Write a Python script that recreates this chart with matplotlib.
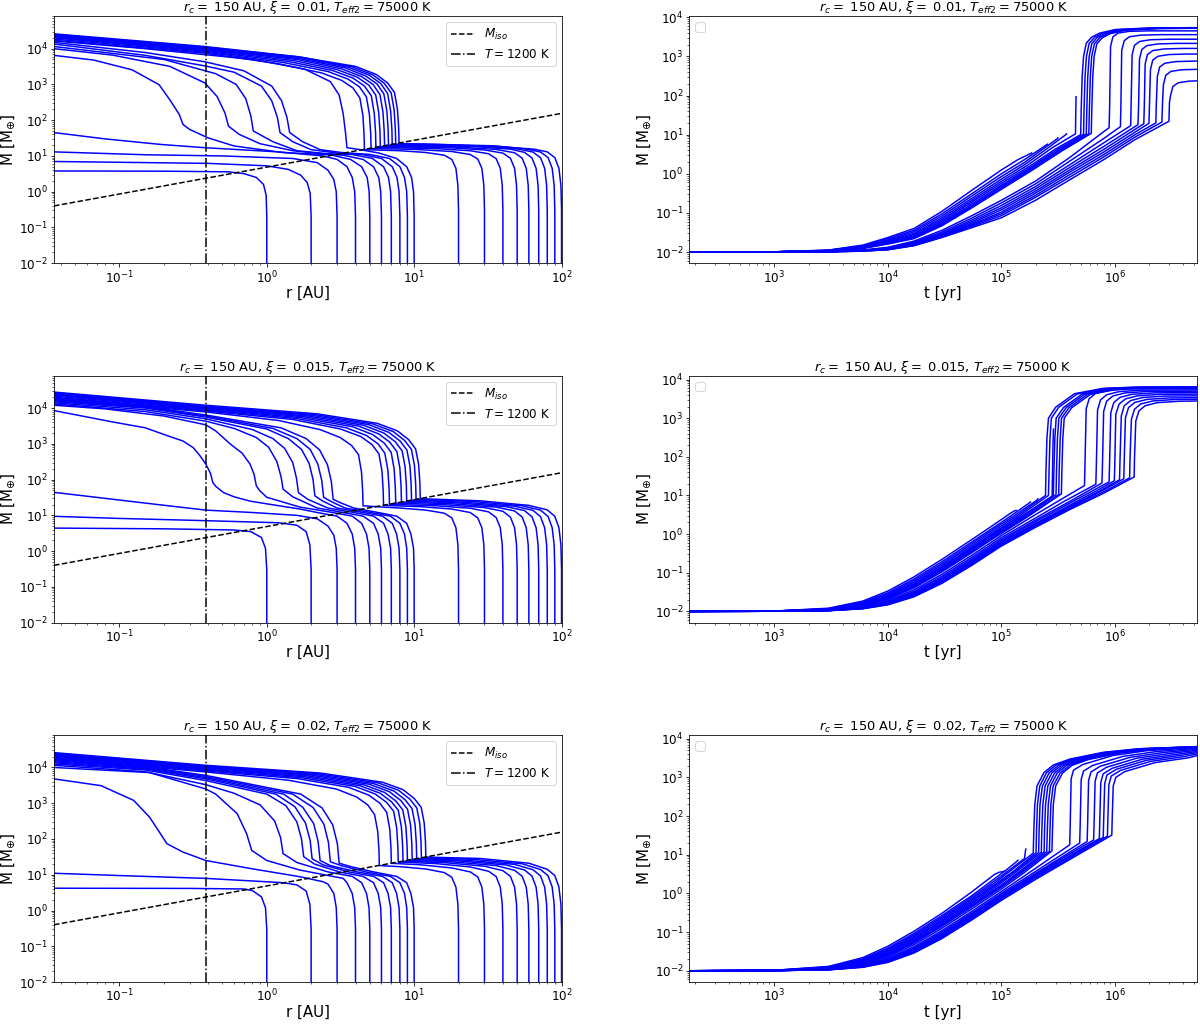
import matplotlib
matplotlib.use("Agg")
import matplotlib.pyplot as plt

# panel parameters
xi_vals = [0.01, 0.015, 0.02]
r_c = 150
t_eff2 = 75000
r_T1200 = 0.386
miso_r = [0.036, 100]
miso_m = [0.4, 155]

# ---------------- xi = 0.01 : M vs r ----------------
r_a = [
    [1, 1, 0.99, 0.95, 0.85, 0.7, 0.55, 0.2, 0.036],
    [2, 2, 1.97, 1.88, 1.7, 1.4, 1.0, 0.4, 0.036],
    [3, 3, 2.96, 2.85, 2.6, 2.2, 1.5, 0.5, 0.15, 0.036],
    [4, 4, 3.95, 3.8, 3.5, 3.0, 2.4, 1.2, 0.38, 0.19, 0.08, 0.036],
    [5, 5, 4.95, 4.8, 4.4, 3.7, 2.7, 1.3, 0.6, 0.4, 0.3, 0.27, 0.255, 0.22, 0.186, 0.122, 0.067, 0.036],
    [6, 6, 5.93, 5.75, 5.3, 4.5, 3.3, 2.4, 1.5, 0.9, 0.65, 0.55, 0.52, 0.46, 0.38, 0.22, 0.09, 0.036],
    [7, 7, 6.92, 6.7, 6.2, 5.2, 3.8, 2.6, 1.6, 1.1, 0.81, 0.78, 0.72, 0.62, 0.45, 0.2, 0.036],
    [8, 8, 7.9, 7.65, 7.1, 6, 4.4, 3, 2, 1.5, 1.23, 1.18, 1.08, 0.92, 0.6, 0.38, 0.15, 0.036],
    [9, 9, 8.9, 8.6, 8, 6.8, 5, 3.2, 2.3, 1.75, 1.43, 1.37, 1.26, 1.08, 0.7, 0.38, 0.15, 0.036],
    [10, 10, 9.9, 9.6, 8.9, 7.6, 5.8, 4.3, 3.5, 3.42, 3.3, 3.1, 2.7, 1.8, 0.8, 0.38, 0.15, 0.036],
    [20, 20, 19.8, 19.2, 18, 16, 12, 8, 4.6, 4.57, 4.49, 4.28, 3.84, 3.22, 2.35, 1.2, 0.38, 0.036],
    [30, 30, 29.7, 28.8, 27, 24, 18, 10, 5.1, 5.07, 4.97, 4.74, 4.26, 3.57, 2.6, 1.3, 0.38, 0.036],
    [40, 40, 39.6, 38.4, 36, 32, 24, 14, 8, 5.5, 5.47, 5.36, 5.12, 4.6, 3.85, 2.8, 1.4, 0.38, 0.036],
    [50, 50, 49.5, 48, 45, 40, 30, 18, 9, 5.9, 5.86, 5.75, 5.49, 4.93, 4.13, 3.0, 1.5, 0.38, 0.036],
    [60, 60, 59.4, 57.6, 54, 48, 36, 20, 10, 6.3, 6.26, 6.14, 5.86, 5.26, 4.41, 3.2, 1.6, 0.38, 0.036],
    [70, 70, 69.3, 67.2, 63, 56, 45, 25, 11, 6.7, 6.66, 6.53, 6.23, 5.6, 4.69, 3.4, 1.65, 0.38, 0.036],
    [80, 80, 79.2, 76.8, 72, 64, 52, 30, 12, 7.1, 7.06, 6.92, 6.6, 5.93, 4.97, 3.6, 1.7, 0.38, 0.036],
    [90, 90, 89.1, 86.4, 81, 72, 58, 35, 14, 7.5, 7.45, 7.31, 6.98, 6.26, 5.25, 3.8, 1.7, 0.38, 0.036],
    [100, 100, 99, 96, 90, 80, 65, 40, 20, 12, 7.9, 7.85, 7.7, 7.35, 6.6, 5.53, 4.0, 1.6, 0.38, 0.036],
]
m_a = [
    [0.01, 0.2, 0.8, 1.6, 2.5, 3.2, 3.6, 3.75, 3.8],
    [0.01, 0.2, 0.9, 1.8, 2.9, 4.2, 5.3, 6.2, 7.0],
    [0.01, 0.2, 1, 2.2, 4, 6.5, 8.5, 10, 10.8, 13],
    [0.01, 0.2, 1, 2.5, 5, 8, 10, 13, 17, 21, 30, 45],
    [0.01, 0.2, 1, 2.5, 5, 8, 10.8, 12.4, 19, 32, 55, 76, 144, 370, 980, 2560, 4800, 6500],
    [0.01, 0.2, 1, 2.5, 5, 8, 10.5, 11.5, 14, 22, 40, 68, 160, 460, 1100, 3200, 6600, 10000],
    [0.01, 0.2, 1, 2.5, 5, 8.5, 11, 11.5, 14, 25, 50, 130, 400, 1000, 2000, 5000, 11500],
    [0.01, 0.2, 1, 2.5, 5, 8.5, 11, 12, 15, 25, 45, 120, 350, 900, 2200, 3300, 6500, 13500],
    [0.01, 0.2, 1, 2.5, 5, 8.5, 11, 12.5, 15, 25, 45, 120, 350, 900, 2400, 4300, 7800, 15000],
    [0.01, 0.2, 1, 2.5, 5, 8.5, 12, 15, 17, 45, 150, 500, 1200, 2700, 5000, 6800, 10000, 16500],
    [0.01, 0.3, 1.5, 4.5, 8, 10.5, 12.5, 14, 15, 40, 135, 420, 800, 1300, 2100, 3800, 7500, 17000],
    [0.01, 0.3, 1.5, 4.5, 8.2, 11, 13.3, 15.3, 16.1, 43, 145, 450, 850, 1400, 2300, 4100, 8000, 18500],
    [0.01, 0.3, 1.5, 4.5, 8.4, 11.5, 14, 16, 16.9, 17.1, 46, 155, 480, 900, 1500, 2450, 4400, 8500, 20000],
    [0.01, 0.3, 1.5, 4.5, 8.6, 12, 14.7, 16.8, 17.8, 18, 49, 160, 500, 950, 1580, 2600, 4700, 9000, 21000],
    [0.01, 0.3, 1.5, 4.5, 8.7, 12.3, 15.2, 17.6, 18.7, 18.9, 51, 170, 520, 1000, 1650, 2750, 5000, 9500, 22000],
    [0.01, 0.3, 1.5, 4.5, 8.8, 12.6, 15.5, 18.3, 19.6, 19.8, 53, 180, 540, 1030, 1720, 2900, 5300, 10000, 23000],
    [0.01, 0.3, 1.5, 4.5, 8.9, 12.8, 15.4, 18.8, 20.4, 20.6, 56, 185, 560, 1060, 1800, 3000, 5600, 10500, 24000],
    [0.01, 0.3, 1.5, 4.5, 9, 12.9, 15.5, 19.2, 21.1, 21.4, 58, 195, 580, 1080, 1850, 3100, 5800, 11000, 25000],
    [0.01, 0.3, 1.5, 4.5, 9, 13, 15.5, 18, 20, 21.5, 22.3, 60, 200, 600, 1100, 1900, 3200, 6000, 11500, 26000],
]

# ---------------- xi = 0.015 : M vs r ----------------
r_b = [
    [1, 1, 0.98, 0.92, 0.78, 0.6, 0.2, 0.036],
    [2, 2, 1.96, 1.85, 1.6, 1.2, 0.386, 0.1, 0.036],
    [3, 3, 2.96, 2.85, 2.6, 2.2, 1.6, 0.8, 0.386, 0.15, 0.036],
    [4, 4, 3.95, 3.8, 3.5, 3.0, 2.2, 1.68, 1.0, 0.77, 0.6, 0.51, 0.45, 0.43, 0.415, 0.386, 0.35, 0.317, 0.27, 0.216, 0.15, 0.087, 0.036],
    [5, 5, 4.94, 4.75, 4.4, 3.8, 2.8, 1.68, 1.0, 0.9, 0.85, 0.82, 0.77, 0.68, 0.57, 0.45, 0.386, 0.2, 0.08, 0.036],
    [6, 6, 5.93, 5.7, 5.3, 4.5, 3.3, 2.2, 1.5, 1.29, 1.25, 1.17, 1.03, 0.85, 0.6, 0.386, 0.15, 0.036],
    [7, 7, 6.92, 6.65, 6.2, 5.3, 3.9, 2.6, 1.9, 1.64, 1.59, 1.5, 1.32, 1.1, 0.8, 0.386, 0.15, 0.036],
    [8, 8, 7.9, 7.6, 7.1, 6.1, 4.5, 3.0, 2.4, 2.12, 2.06, 1.94, 1.72, 1.4, 1.0, 0.386, 0.15, 0.036],
    [9, 9, 8.9, 8.6, 8, 6.9, 5.1, 3.4, 2.75, 2.43, 2.36, 2.22, 1.97, 1.6, 1.1, 0.386, 0.15, 0.036],
    [10, 10, 9.9, 9.5, 8.9, 7.6, 5.7, 3.9, 3.2, 2.82, 2.74, 2.58, 2.28, 1.85, 1.25, 0.386, 0.15, 0.036],
    [20, 20, 19.8, 19.2, 18, 16, 12, 8, 5.5, 4.5, 4.47, 4.39, 4.19, 3.76, 3.15, 2.3, 1.2, 0.386, 0.036],
    [30, 30, 29.7, 28.8, 27, 24, 18, 11, 6.2, 6.16, 6.05, 5.77, 5.18, 4.34, 3.16, 1.5, 0.386, 0.036],
    [40, 40, 39.6, 38.4, 36, 32, 24, 14, 6.8, 6.76, 6.63, 6.32, 5.68, 4.76, 3.47, 1.6, 0.386, 0.036],
    [50, 50, 49.5, 48, 45, 40, 30, 16, 7.5, 7.45, 7.31, 6.98, 6.26, 5.25, 3.83, 1.7, 0.386, 0.036],
    [60, 60, 59.4, 57.6, 54, 48, 36, 18, 8.2, 8.15, 8.0, 7.63, 6.85, 5.74, 4.18, 1.8, 0.386, 0.036],
    [70, 70, 69.3, 67.2, 63, 56, 42, 20, 8.9, 8.85, 8.68, 8.28, 7.43, 6.23, 4.54, 1.9, 0.386, 0.036],
    [80, 80, 79.2, 76.8, 72, 64, 48, 22, 9.6, 9.54, 9.36, 8.93, 8.02, 6.72, 4.9, 2.0, 0.386, 0.036],
    [90, 90, 89.1, 86.4, 81, 72, 54, 25, 10.3, 10.24, 10.04, 9.58, 8.6, 7.21, 5.25, 2.1, 0.386, 0.036],
    [100, 100, 99, 96, 90, 80, 60, 28, 11, 10.93, 10.73, 10.23, 9.19, 7.7, 5.61, 2.2, 0.386, 0.036],
]
m_b = [
    [0.01, 0.3, 1.2, 2.4, 3.5, 3.9, 4.2, 4.4],
    [0.01, 0.3, 1.5, 3.5, 5.3, 6.2, 7.1, 8.2, 9.4],
    [0.01, 0.3, 1.2, 2.8, 5, 8, 10, 12, 14, 22, 44],
    [0.01, 0.3, 1.2, 3, 6, 9.5, 12, 15, 21, 25, 33, 43, 65, 83, 150, 270, 480, 780, 1200, 1640, 2800, 4200, 8500],
    [0.01, 0.3, 1.2, 3, 6, 9.5, 12, 17, 32, 48, 66, 140, 270, 550, 960, 2300, 3400, 6000, 9500, 12000],
    [0.01, 0.3, 1.2, 3, 6, 9.5, 12, 16, 33, 54, 120, 320, 800, 1500, 2700, 4300, 8000, 13000],
    [0.01, 0.3, 1.2, 3, 6, 9.5, 12, 16, 28, 43, 110, 300, 750, 1400, 2500, 5000, 9000, 14000],
    [0.01, 0.3, 1.2, 3, 6, 9.5, 12, 16, 25, 35, 100, 280, 700, 1400, 2600, 5600, 10000, 15000],
    [0.01, 0.3, 1.2, 3, 6, 9.5, 12, 16, 24, 32, 95, 270, 700, 1400, 2700, 6000, 10500, 16000],
    [0.01, 0.3, 1.2, 3, 6, 9.5, 12, 16, 22, 28, 90, 260, 680, 1400, 2800, 6400, 11000, 17000],
    [0.01, 0.3, 1.5, 4.5, 8.5, 11.5, 14, 16, 17.5, 18.5, 50, 165, 500, 900, 1500, 2500, 4500, 7800, 18000],
    [0.01, 0.3, 1.5, 4.5, 8.5, 12, 15, 17.5, 19, 51, 170, 520, 950, 1600, 2600, 4800, 8300, 19000],
    [0.01, 0.3, 1.5, 4.5, 8.7, 12.5, 15.8, 18.5, 20.4, 55, 185, 550, 1000, 1700, 2800, 5100, 8800, 20000],
    [0.01, 0.3, 1.5, 4.5, 8.9, 13, 16.5, 19.8, 22, 59, 200, 580, 1050, 1800, 3000, 5400, 9300, 21500],
    [0.01, 0.3, 1.5, 4.5, 9, 13.3, 17, 21, 23.6, 64, 210, 610, 1100, 1900, 3150, 5700, 9800, 23000],
    [0.01, 0.3, 1.5, 4.5, 9.1, 13.6, 17.5, 22.2, 25.1, 68, 225, 640, 1150, 2000, 3300, 6000, 10300, 24000],
    [0.01, 0.3, 1.5, 4.5, 9.2, 13.8, 18, 23.2, 26.6, 72, 240, 670, 1200, 2100, 3450, 6300, 10800, 25500],
    [0.01, 0.3, 1.5, 4.5, 9.3, 14, 18.5, 24.5, 28, 76, 250, 700, 1250, 2200, 3600, 6600, 11300, 27000],
    [0.01, 0.3, 1.5, 4.5, 9.4, 14.2, 19, 25.5, 29.2, 79, 260, 720, 1300, 2300, 3750, 6900, 12000, 28000],
]

# ---------------- xi = 0.02 : M vs r ----------------
r_c2 = [
    [1, 1, 0.98, 0.92, 0.8, 0.7, 0.3, 0.036],
    [2, 2, 1.96, 1.85, 1.6, 1.29, 0.386, 0.1, 0.036],
    [3, 3, 2.96, 2.85, 2.6, 2.4, 1.68, 0.77, 0.386, 0.27, 0.21, 0.19, 0.16, 0.125, 0.075, 0.036],
    [4, 4, 3.95, 3.8, 3.5, 3.3, 1.68, 1.0, 0.79, 0.73, 0.63, 0.45, 0.386, 0.16, 0.036],
    [5, 5, 4.94, 4.75, 4.4, 3.8, 2.6, 1.6, 1.29, 1.24, 1.13, 0.9, 0.6, 0.386, 0.15, 0.036],
    [6, 6, 5.93, 5.7, 5.3, 4.5, 3.1, 2.1, 1.78, 1.72, 1.6, 1.35, 1.0, 0.386, 0.15, 0.036],
    [7, 7, 6.92, 6.65, 6.2, 5.3, 3.6, 2.4, 2.03, 1.97, 1.83, 1.55, 1.15, 0.386, 0.15, 0.036],
    [8, 8, 7.9, 7.6, 7.1, 6.1, 4.1, 2.7, 2.3, 2.23, 2.08, 1.75, 1.3, 0.386, 0.15, 0.036],
    [9, 9, 8.9, 8.6, 8, 6.9, 4.7, 3.2, 2.7, 2.62, 2.44, 2.06, 1.5, 0.386, 0.15, 0.036],
    [10, 10, 9.9, 9.5, 8.9, 7.6, 5.3, 3.7, 3.1, 3.01, 2.8, 2.37, 1.7, 0.386, 0.15, 0.036],
    [20, 20, 19.8, 19.2, 18, 16, 12, 8, 5.8, 5.77, 5.66, 5.39, 4.84, 4.06, 2.96, 1.4, 0.386, 0.036],
    [30, 30, 29.7, 28.8, 27, 24, 18, 11, 7.0, 6.96, 6.83, 6.51, 5.85, 4.9, 3.57, 1.6, 0.386, 0.036],
    [40, 40, 39.6, 38.4, 36, 32, 24, 14, 7.8, 7.75, 7.61, 7.25, 6.51, 5.46, 3.98, 1.7, 0.386, 0.036],
    [50, 50, 49.5, 48, 45, 40, 30, 16, 8.4, 8.35, 8.19, 7.81, 7.01, 5.88, 4.28, 1.8, 0.386, 0.036],
    [60, 60, 59.4, 57.6, 54, 48, 36, 18, 9.0, 8.95, 8.78, 8.37, 7.52, 6.3, 4.59, 1.9, 0.386, 0.036],
    [70, 70, 69.3, 67.2, 63, 56, 42, 20, 9.7, 9.64, 9.46, 9.02, 8.1, 6.79, 4.95, 2.0, 0.386, 0.036],
    [80, 80, 79.2, 76.8, 72, 64, 48, 22, 10.4, 10.34, 10.14, 9.67, 8.68, 7.28, 5.3, 2.1, 0.386, 0.036],
    [90, 90, 89.1, 86.4, 81, 72, 54, 25, 11.2, 11.13, 10.92, 10.42, 9.35, 7.84, 5.71, 2.2, 0.386, 0.036],
    [100, 100, 99, 96, 90, 80, 60, 28, 12, 11.93, 11.7, 11.16, 10.02, 8.4, 6.12, 2.3, 0.386, 0.036],
]
m_c2 = [
    [0.01, 0.3, 1.2, 2.4, 3.6, 4.0, 4.15, 4.2],
    [0.01, 0.3, 1.5, 3.5, 5.2, 6.0, 7.9, 9.5, 11],
    [0.01, 0.3, 1.2, 3, 5.5, 6.4, 8.8, 15, 25, 43, 74, 140, 410, 1200, 3100, 4800],
    [0.01, 0.3, 1.2, 3, 6, 7.9, 13.5, 25, 48, 140, 510, 1800, 2500, 7200, 10000],
    [0.01, 0.3, 1.2, 3, 6, 9, 12, 22, 39, 110, 320, 900, 1900, 3300, 7600, 11500],
    [0.01, 0.3, 1.2, 3, 6, 9, 12, 20, 32, 100, 300, 850, 1800, 4300, 8500, 12500],
    [0.01, 0.3, 1.2, 3, 6, 9, 12, 19, 28, 90, 280, 800, 1800, 4800, 9000, 13500],
    [0.01, 0.3, 1.2, 3, 6, 9, 12, 18, 25, 85, 270, 780, 1800, 5200, 9500, 14500],
    [0.01, 0.3, 1.2, 3, 6, 9, 12, 18, 23, 80, 260, 760, 1800, 5600, 10000, 15500],
    [0.01, 0.3, 1.2, 3, 6, 9, 12, 17, 21, 75, 250, 740, 1800, 6000, 10500, 16500],
    [0.01, 0.3, 1.5, 4.5, 8.5, 11.5, 14.5, 16.8, 18.1, 49, 160, 480, 900, 1500, 2500, 4400, 7500, 17500],
    [0.01, 0.3, 1.5, 4.5, 8.7, 12, 15.5, 19, 20.9, 56, 190, 560, 1000, 1700, 2800, 4900, 8000, 18500],
    [0.01, 0.3, 1.5, 4.5, 8.9, 12.5, 16.5, 20.5, 22.7, 61, 205, 600, 1050, 1800, 2950, 5200, 8500, 19500],
    [0.01, 0.3, 1.5, 4.5, 9, 13, 17.3, 21.8, 24, 65, 215, 630, 1100, 1900, 3100, 5500, 9000, 20500],
    [0.01, 0.3, 1.5, 4.5, 9.1, 13.3, 18, 23, 25.3, 68, 228, 650, 1150, 2000, 3250, 5800, 9500, 21500],
    [0.01, 0.3, 1.5, 4.5, 9.2, 13.6, 18.8, 24.3, 26.7, 72, 240, 680, 1200, 2100, 3400, 6100, 10000, 22500],
    [0.01, 0.3, 1.5, 4.5, 9.3, 13.8, 19.5, 25.6, 28.2, 76, 254, 710, 1250, 2200, 3550, 6400, 10500, 23500],
    [0.01, 0.3, 1.5, 4.5, 9.4, 14, 20.3, 27, 29.6, 80, 266, 740, 1300, 2300, 3700, 6700, 11000, 25000],
    [0.01, 0.3, 1.5, 4.5, 9.5, 14.2, 21, 28.5, 31.2, 84, 280, 770, 1350, 2400, 3850, 7000, 11500, 26000],
]

# ---------------- M vs t ----------------
t_early_a = [150, 1e3, 3e3, 6e3, 1e4, 1.7e4, 3e4, 5.5e4, 1e5]
m_early_a = [
    [0.01, 0.0101, 0.0112, 0.015, 0.0235, 0.04, 0.11, 0.38, 1.25],
    [0.01, 0.0101, 0.0111, 0.0145, 0.022, 0.036, 0.095, 0.31, 1.0],
    [0.01, 0.0101, 0.011, 0.014, 0.0205, 0.033, 0.084, 0.27, 0.85],
    [0.01, 0.0101, 0.0109, 0.0137, 0.0195, 0.03, 0.075, 0.235, 0.73],
    [0.01, 0.0101, 0.0108, 0.0134, 0.0185, 0.028, 0.068, 0.21, 0.64],
    [0.01, 0.0101, 0.0108, 0.0131, 0.0178, 0.026, 0.062, 0.19, 0.57],
    [0.01, 0.0101, 0.0107, 0.0129, 0.0172, 0.025, 0.057, 0.17, 0.51],
    [0.01, 0.0101, 0.0107, 0.0127, 0.0167, 0.024, 0.053, 0.155, 0.47],
    [0.01, 0.0101, 0.0106, 0.0125, 0.0163, 0.023, 0.05, 0.145, 0.43],
    [0.01, 0.0101, 0.0106, 0.0123, 0.016, 0.022, 0.047, 0.135, 0.40],
    [0.01, 0.0101, 0.0103, 0.0112, 0.0132, 0.019, 0.036, 0.085, 0.21],
    [0.01, 0.0101, 0.0103, 0.0111, 0.0128, 0.0178, 0.0325, 0.074, 0.18],
    [0.01, 0.0101, 0.0102, 0.011, 0.0125, 0.017, 0.03, 0.066, 0.155],
    [0.01, 0.0101, 0.0102, 0.0109, 0.0122, 0.0163, 0.0285, 0.06, 0.135],
    [0.01, 0.0101, 0.0102, 0.0108, 0.012, 0.0158, 0.027, 0.055, 0.12],
    [0.01, 0.0101, 0.0102, 0.0107, 0.0118, 0.0154, 0.026, 0.051, 0.105],
    [0.01, 0.0101, 0.0101, 0.0106, 0.0116, 0.015, 0.025, 0.048, 0.095],
    [0.01, 0.0101, 0.0101, 0.0106, 0.0115, 0.0147, 0.0242, 0.045, 0.085],
    [0.01, 0.0101, 0.0101, 0.0105, 0.0114, 0.0145, 0.0235, 0.042, 0.075],
]
t_late_a = [
    [1.4e5, 1.75e5, 1.85e5],
    [1.6e5, 2.1e5, 2.5e5, 2.55e5],
    [1.6e5, 2.3e5, 3.1e5, 3.15e5],
    [1.6e5, 2.5e5, 3.7e5, 3.75e5],
    [1.7e5, 2.8e5, 4.5e5, 4.52e5, 4.55e5],
    [1.8e5, 3e5, 5.0e5, 5.05e5, 5.15e5, 5.3e5, 5.6e5, 6.25e5, 7.3e5, 1.0e6, 2.0e6, 6e6],
    [1.8e5, 3e5, 5.3e5, 5.35e5, 5.46e5, 5.62e5, 5.94e5, 6.63e5, 7.74e5, 1.06e6, 2.12e6, 6e6],
    [1.8e5, 3.2e5, 5.6e5, 5.66e5, 5.77e5, 5.94e5, 6.27e5, 7.0e5, 8.18e5, 1.12e6, 2.24e6, 6e6],
    [1.8e5, 3.2e5, 5.9e5, 5.96e5, 6.08e5, 6.25e5, 6.61e5, 7.38e5, 8.61e5, 1.18e6, 2.36e6, 6e6],
    [1.8e5, 3.4e5, 6.2e5, 6.26e5, 6.39e5, 6.57e5, 6.94e5, 7.75e5, 9.05e5, 1.24e6, 2.48e6, 6e6],
    [2e5, 4e5, 8e5, 8.9e5, 8.99e5, 9.17e5, 9.61e5, 1.07e6, 1.34e6, 1.96e6, 6e6],
    [2e5, 4e5, 8e5, 1.12e6, 1.13e6, 1.15e6, 1.21e6, 1.34e6, 1.68e6, 2.46e6, 6e6],
    [2e5, 4e5, 8e5, 1.38e6, 1.39e6, 1.42e6, 1.49e6, 1.66e6, 2.07e6, 3.04e6, 6e6],
    [2e5, 4e5, 8e5, 1.6e6, 1.62e6, 1.65e6, 1.73e6, 1.92e6, 2.4e6, 3.52e6, 6e6],
    [2e5, 4e5, 8e5, 1.8e6, 1.82e6, 1.85e6, 1.94e6, 2.16e6, 2.7e6, 3.96e6, 6e6],
    [2e5, 4e5, 8e5, 1.5e6, 2.0e6, 2.02e6, 2.06e6, 2.16e6, 2.4e6, 3.0e6, 4.4e6, 6e6],
    [2e5, 4e5, 8e5, 1.5e6, 2.3e6, 2.32e6, 2.37e6, 2.48e6, 2.76e6, 3.45e6, 5.06e6, 6e6],
    [2e5, 4e5, 8e5, 1.5e6, 2.6e6, 2.63e6, 2.68e6, 2.81e6, 3.12e6, 3.9e6, 5.72e6, 6e6],
    [2e5, 4e5, 8e5, 1.5e6, 3.0e6, 3.03e6, 3.09e6, 3.24e6, 3.6e6, 4.5e6, 6e6],
]
m_late_a = [
    [2.3, 3.15, 3.4],
    [2.3, 3.9, 5.5, 5.7],
    [1.95, 4.2, 7.8, 8.3],
    [1.7, 4.3, 10, 10.5],
    [1.65, 4.6, 10.5, 30, 93],
    [1.6, 4.3, 10, 40, 300, 1000, 2180, 3110, 3920, 4850, 5340, 5450],
    [1.45, 3.9, 10.2, 40, 300, 1000, 2160, 3080, 3890, 4810, 5290, 5400],
    [1.35, 4.0, 10.4, 40, 300, 1000, 2140, 3050, 3850, 4760, 5240, 5350],
    [1.25, 3.7, 10.6, 40, 300, 1000, 2120, 3020, 3820, 4720, 5190, 5300],
    [1.15, 3.8, 10.8, 40, 300, 1000, 2100, 2990, 3780, 4670, 5150, 5250],
    [0.65, 2.6, 12, 15, 45, 1800, 3150, 3960, 4370, 4500, 4500],
    [0.55, 2.1, 8.0, 16, 48, 1440, 2520, 3170, 3490, 3600, 3600],
    [0.47, 1.7, 6.2, 17, 51, 1100, 1925, 2420, 2670, 2750, 2750],
    [0.41, 1.45, 5.0, 18, 54, 860, 1505, 1890, 2085, 2150, 2150],
    [0.36, 1.25, 4.2, 19, 57, 640, 1120, 1410, 1550, 1600, 1600],
    [0.32, 1.1, 3.6, 11.5, 19.5, 58, 460, 805, 1010, 1115, 1150, 1150],
    [0.28, 0.95, 3.1, 9.9, 20, 60, 304, 532, 669, 737, 760, 760],
    [0.25, 0.82, 2.7, 8.6, 21, 63, 188, 329, 414, 456, 470, 470],
    [0.21, 0.7, 2.3, 7.4, 22, 66, 96, 168, 211, 233, 240],
]

t_early_b = [150, 1e3, 3e3, 6e3, 1e4, 1.7e4, 3e4, 5.5e4]
m_early_b = [
    [0.01, 0.0102, 0.0121, 0.0185, 0.0337, 0.0784, 0.223, 0.726],
    [0.01, 0.0102, 0.0118, 0.0173, 0.0304, 0.069, 0.194, 0.627],
    [0.01, 0.0102, 0.0116, 0.0166, 0.0283, 0.0628, 0.174, 0.562],
    [0.01, 0.0102, 0.0115, 0.0159, 0.0264, 0.0575, 0.158, 0.507],
    [0.01, 0.0102, 0.0113, 0.0154, 0.0249, 0.053, 0.144, 0.46],
    [0.01, 0.0102, 0.0112, 0.015, 0.0238, 0.05, 0.135, 0.429],
    [0.01, 0.0101, 0.0112, 0.0147, 0.0229, 0.0473, 0.126, 0.40],
    [0.01, 0.0101, 0.0111, 0.0143, 0.0221, 0.0449, 0.119, 0.375],
    [0.01, 0.0101, 0.011, 0.0141, 0.0213, 0.0427, 0.112, 0.352],
    [0.01, 0.0101, 0.011, 0.0138, 0.0206, 0.0407, 0.106, 0.331],
    [0.01, 0.0101, 0.0108, 0.0133, 0.0191, 0.0362, 0.0916, 0.284],
    [0.01, 0.0101, 0.0107, 0.0129, 0.018, 0.033, 0.0817, 0.251],
    [0.01, 0.0101, 0.0106, 0.0126, 0.0172, 0.0308, 0.0746, 0.227],
    [0.01, 0.0101, 0.0106, 0.0124, 0.0166, 0.0291, 0.0695, 0.21],
    [0.01, 0.0101, 0.0105, 0.0122, 0.0161, 0.0276, 0.0649, 0.195],
    [0.01, 0.0101, 0.0105, 0.0121, 0.0157, 0.0266, 0.0617, 0.184],
    [0.01, 0.0101, 0.0105, 0.0119, 0.0154, 0.0256, 0.0587, 0.174],
    [0.01, 0.0101, 0.0105, 0.0118, 0.0151, 0.0247, 0.0559, 0.164],
    [0.01, 0.0101, 0.0104, 0.0117, 0.0148, 0.0239, 0.0534, 0.156],
]
t_late_b = [
    [8e4, 1.1e5, 1.3e5, 1.35e5],
    [8e4, 1.2e5, 1.75e5, 1.8e5],
    [8e4, 1.3e5, 2.05e5, 2.1e5],
    [8e4, 1.4e5, 2.45e5, 2.47e5, 2.52e5, 2.6e5, 3.01e5, 4.41e5, 7.84e5, 1.47e6, 6e6],
    [8e4, 1.4e5, 2.6e5, 2.63e5, 2.68e5, 2.76e5, 3.2e5, 4.68e5, 8.32e5, 1.56e6, 6e6],
    [8e4, 1.5e5, 2.8e5, 2.82e5, 2.85e5, 2.88e5],
    [8e4, 1.5e5, 2.87e5, 2.9e5, 2.96e5, 3.04e5, 3.53e5, 5.17e5, 9.18e5, 1.72e6, 6e6],
    [8e4, 1.6e5, 3.03e5, 3.06e5, 3.12e5, 3.21e5, 3.73e5, 5.45e5, 9.7e5, 1.82e6, 6e6],
    [8e4, 1.6e5, 3.2e5, 3.23e5, 3.3e5, 3.39e5, 3.94e5, 5.76e5, 1.02e6, 1.92e6, 6e6],
    [8e4, 1.7e5, 3.38e5, 3.41e5, 3.48e5, 3.58e5, 4.16e5, 6.08e5, 1.08e6, 2.03e6, 6e6],
    [1e5, 2e5, 3.5e5, 5.4e5, 5.45e5, 5.59e5, 5.94e5, 6.75e5, 8.64e5, 1.35e6, 6e6],
    [1e5, 2e5, 3.5e5, 6.8e5, 6.87e5, 7.04e5, 7.48e5, 8.5e5, 1.09e6, 1.7e6, 6e6],
    [1e5, 2e5, 4e5, 7.7e5, 7.78e5, 7.97e5, 8.47e5, 9.63e5, 1.23e6, 1.93e6, 6e6],
    [1e5, 2e5, 4e5, 8.9e5, 8.99e5, 9.21e5, 9.79e5, 1.11e6, 1.42e6, 2.23e6, 6e6],
    [1e5, 2e5, 4e5, 7e5, 9.9e5, 1.0e6, 1.02e6, 1.09e6, 1.24e6, 1.58e6, 2.48e6, 6e6],
    [1e5, 2e5, 4e5, 7e5, 1.1e6, 1.11e6, 1.14e6, 1.21e6, 1.38e6, 1.76e6, 2.75e6, 6e6],
    [1e5, 2e5, 4e5, 8e5, 1.2e6, 1.21e6, 1.24e6, 1.32e6, 1.5e6, 1.92e6, 3.0e6, 6e6],
    [1e5, 2e5, 4e5, 8e5, 1.35e6, 1.36e6, 1.4e6, 1.49e6, 1.69e6, 2.16e6, 3.38e6, 6e6],
    [1e5, 2e5, 4e5, 8e5, 1.48e6, 1.49e6, 1.53e6, 1.63e6, 1.85e6, 2.37e6, 3.7e6, 6e6],
]
m_late_b = [
    [1.52, 2.9, 4.0, 4.1],
    [1.3, 2.9, 6.3, 6.8],
    [1.18, 3.0, 7.5, 8.2],
    [1.06, 3.1, 10, 40, 300, 1000, 1920, 4290, 5890, 6340, 6400],
    [0.96, 2.8, 10, 40, 300, 1000, 1910, 4250, 5840, 6290, 6350],
    [0.9, 2.9, 9.5, 30, 200, 520],
    [0.84, 2.7, 10, 40, 300, 1000, 1890, 4220, 5800, 6240, 6300],
    [0.78, 2.8, 10.5, 40, 300, 1000, 1880, 4190, 5750, 6190, 6250],
    [0.73, 2.6, 10.5, 40, 300, 1000, 1860, 4150, 5700, 6140, 6200],
    [0.69, 2.8, 11, 40, 300, 1000, 1850, 4120, 5660, 6090, 6150],
    [0.92, 3.2, 8.5, 18, 54, 1740, 3190, 4350, 5220, 5680, 5800],
    [0.81, 2.6, 6.8, 19.5, 58, 1620, 2970, 4050, 4860, 5290, 5400],
    [0.73, 2.3, 7, 21, 63, 1500, 2750, 3750, 4500, 4900, 5000],
    [0.67, 2.1, 6.3, 22.5, 68, 1380, 2530, 3450, 4140, 4510, 4600],
    [0.62, 1.9, 5.6, 13.5, 24, 72, 1260, 2310, 3150, 3780, 4120, 4200],
    [0.58, 1.8, 5.2, 12, 25.5, 77, 1140, 2090, 2850, 3420, 3720, 3800],
    [0.55, 1.7, 4.9, 14, 27, 81, 1020, 1870, 2550, 3060, 3330, 3400],
    [0.52, 1.6, 4.6, 12.5, 28.5, 86, 930, 1700, 2330, 2790, 3040, 3100],
    [0.49, 1.5, 4.3, 11.5, 30, 90, 840, 1540, 2100, 2520, 2740, 2800],
]

t_early_c = [150, 1e3, 3e3, 6e3, 1e4, 1.7e4, 3e4, 5.5e4]
m_early_c = [
    [0.01, 0.0103, 0.013, 0.0219, 0.0431, 0.1055, 0.3075, 1.1],
    [0.01, 0.0103, 0.0126, 0.0203, 0.0387, 0.093, 0.2685, 0.879],
    [0.01, 0.0103, 0.0123, 0.0194, 0.036, 0.0852, 0.244, 0.797],
    [0.01, 0.0102, 0.0121, 0.0185, 0.0337, 0.0784, 0.223, 0.726],
    [0.01, 0.0102, 0.0119, 0.0178, 0.0316, 0.0725, 0.205, 0.664],
    [0.01, 0.0102, 0.0118, 0.0171, 0.0298, 0.0673, 0.189, 0.61],
    [0.01, 0.0102, 0.0116, 0.0166, 0.0283, 0.0628, 0.174, 0.562],
    [0.01, 0.0102, 0.0115, 0.0161, 0.0269, 0.0587, 0.162, 0.52],
    [0.01, 0.0102, 0.0114, 0.0156, 0.0256, 0.0552, 0.151, 0.483],
    [0.01, 0.0101, 0.0113, 0.0152, 0.0245, 0.052, 0.141, 0.449],
    [0.01, 0.0101, 0.0112, 0.0146, 0.0229, 0.0473, 0.126, 0.40],
    [0.01, 0.0101, 0.011, 0.014, 0.0211, 0.042, 0.1097, 0.345],
    [0.01, 0.0101, 0.0109, 0.0136, 0.020, 0.0389, 0.10, 0.3125],
    [0.01, 0.0101, 0.0108, 0.0133, 0.0192, 0.0367, 0.0932, 0.29],
    [0.01, 0.0101, 0.0108, 0.0131, 0.0186, 0.0348, 0.0872, 0.269],
    [0.01, 0.0101, 0.0107, 0.0129, 0.018, 0.033, 0.0817, 0.251],
    [0.01, 0.0101, 0.0107, 0.0127, 0.0174, 0.0315, 0.0769, 0.235],
    [0.01, 0.0101, 0.0106, 0.0125, 0.0169, 0.0301, 0.0725, 0.22],
    [0.01, 0.0101, 0.0106, 0.0123, 0.0165, 0.0288, 0.0685, 0.207],
]
t_late_c = [
    [7e4, 8.7e4, 9.5e4, 1.07e5],
    [8e4, 1.1e5, 1.35e5, 1.4e5],
    [8e4, 1.2e5, 1.6e5, 1.62e5, 1.64e5],
    [9e4, 1.3e5, 1.91e5, 1.93e5, 1.97e5, 2.06e5, 2.37e5, 2.87e5, 4.01e5, 7.83e5, 1.62e6, 6e6],
    [9e4, 1.3e5, 2.02e5, 2.04e5, 2.08e5, 2.18e5, 2.5e5, 3.03e5, 4.24e5, 8.28e5, 1.72e6, 6e6],
    [9e4, 1.4e5, 2.13e5, 2.15e5, 2.19e5, 2.3e5, 2.64e5, 3.2e5, 4.47e5, 8.73e5, 1.81e6, 6e6],
    [9e4, 1.4e5, 2.25e5, 2.27e5, 2.32e5, 2.43e5, 2.79e5, 3.38e5, 4.73e5, 9.23e5, 1.91e6, 6e6],
    [1e5, 1.5e5, 2.38e5, 2.4e5, 2.45e5, 2.57e5, 2.95e5, 3.57e5, 5.0e5, 9.76e5, 2.02e6, 6e6],
    [1e5, 1.5e5, 2.51e5, 2.54e5, 2.59e5, 2.71e5, 3.11e5, 3.77e5, 5.27e5, 1.03e6, 2.13e6, 6e6],
    [1e5, 1.6e5, 2.65e5, 2.68e5, 2.73e5, 2.86e5, 3.29e5, 3.98e5, 5.57e5, 1.09e6, 2.25e6, 6e6],
    [1e5, 1.6e5, 2.79e5, 2.82e5, 2.87e5, 3.01e5, 3.46e5, 4.19e5, 5.86e5, 1.14e6, 2.37e6, 6e6],
    [1e5, 2e5, 4e5, 4.04e5, 4.12e5, 4.32e5, 5.2e5, 9.6e5, 1.9e6, 6e6],
    [1e5, 2e5, 4.9e5, 4.95e5, 5.05e5, 5.29e5, 6.37e5, 1.18e6, 2.33e6, 6e6],
    [1e5, 2e5, 5.7e5, 5.76e5, 5.87e5, 6.16e5, 7.41e5, 1.37e6, 2.71e6, 6e6],
    [1e5, 2e5, 4e5, 6.5e5, 6.57e5, 6.7e5, 7.02e5, 8.45e5, 1.56e6, 3.09e6, 6e6],
    [1e5, 2e5, 4e5, 7.3e5, 7.37e5, 7.52e5, 7.88e5, 9.49e5, 1.75e6, 3.47e6, 6e6],
    [1e5, 2e5, 4e5, 7.9e5, 7.98e5, 8.14e5, 8.53e5, 1.03e6, 1.9e6, 3.75e6, 6e6],
    [1e5, 2e5, 4e5, 8.6e5, 8.69e5, 8.86e5, 9.29e5, 1.12e6, 2.06e6, 4.09e6, 6e6],
    [1e5, 2e5, 4e5, 9.4e5, 9.49e5, 9.68e5, 1.02e6, 1.22e6, 2.26e6, 4.47e6, 6e6],
]
m_late_c = [
    [1.9, 3.1, 3.5, 3.75],
    [2.0, 4.0, 6.5, 7.2],
    [1.75, 4.2, 8.0, 11, 14],
    [2.0, 4.6, 11, 40, 200, 600, 1320, 2080, 2960, 4410, 5480, 6300],
    [1.8, 3.9, 11.2, 40, 200, 600, 1320, 2080, 2960, 4410, 5480, 6300],
    [1.65, 4.3, 11.4, 40, 200, 600, 1310, 2060, 2940, 4380, 5440, 6250],
    [1.5, 3.9, 11.6, 40, 200, 600, 1310, 2060, 2940, 4380, 5440, 6250],
    [1.65, 4.0, 11.8, 40, 200, 600, 1300, 2050, 2910, 4340, 5390, 6200],
    [1.55, 3.7, 12, 40, 200, 600, 1300, 2050, 2910, 4340, 5390, 6200],
    [1.45, 3.9, 12.2, 40, 200, 600, 1290, 2030, 2890, 4310, 5350, 6150],
    [1.3, 3.5, 12.5, 40, 200, 600, 1290, 2030, 2890, 4310, 5350, 6150],
    [1.12, 4.44, 18, 54, 915, 1525, 2135, 3660, 4880, 6100],
    [1.0, 3.7, 20, 60, 870, 1450, 2030, 3480, 4640, 5800],
    [0.93, 3.3, 22, 66, 825, 1375, 1925, 3300, 4400, 5500],
    [0.87, 3.1, 10.5, 24, 72, 780, 1300, 1820, 3120, 4160, 5200],
    [0.81, 2.9, 9.5, 26, 78, 735, 1225, 1715, 2940, 3920, 4900],
    [0.76, 2.7, 8.8, 28, 84, 690, 1150, 1610, 2760, 3680, 4600],
    [0.71, 2.5, 8.1, 30, 90, 645, 1075, 1505, 2580, 3440, 4300],
    [0.66, 2.3, 7.5, 32, 96, 600, 1000, 1400, 2400, 3200, 4000],
]

r_tracks = [(r_a, m_a), (r_b, m_b), (r_c2, m_c2)]
t_tracks = [(t_early_a, m_early_a, t_late_a, m_late_a),
            (t_early_b, m_early_b, t_late_b, m_late_b),
            (t_early_c, m_early_c, t_late_c, m_late_c)]

plt.rcParams['xtick.major.pad'] = 2.5
plt.rcParams['ytick.major.pad'] = 2.5

fig, axes = plt.subplots(3, 2, figsize=(1200 / 72, 1024 / 72), dpi=72)
fig.subplots_adjust(left=0.045, right=0.9975, bottom=0.041, top=0.984,
                    wspace=0.252, hspace=0.456)

for row in range(3):
    title = r'$r_c = $ %d AU, $\xi = $ %s, $T_{eff2} = %d$ K' % (r_c, xi_vals[row], t_eff2)

    ax = axes[row, 0]
    rr, mm = r_tracks[row]
    for r, m in zip(rr, mm):
        ax.plot(r, m, color='blue', lw=1.5)
    ax.plot(miso_r, miso_m, 'k--', lw=1.5, label=r'$M_{iso}$')
    ax.axvline(r_T1200, color='k', ls='-.', lw=1.5, label=r'$T = 1200$ K')
    ax.set_xscale('log')
    ax.set_yscale('log')
    ax.set_xlim(0.036, 100)
    ax.set_ylim(1e-2, 8e4)
    ax.set_xlabel('r [AU]', fontsize=15, labelpad=0)
    ax.set_ylabel(r'M [M$_{\oplus}$]', fontsize=15, labelpad=2)
    ax.set_title(title, fontsize=13, pad=3)
    ax.tick_params(labelsize=12)
    ax.legend(loc='upper right', fontsize=12)

    ax = axes[row, 1]
    te, me, tl, ml = t_tracks[row]
    for i in range(len(me)):
        ax.plot(te + tl[i], me[i] + ml[i], color='blue', lw=1.5)
    ax.set_xscale('log')
    ax.set_yscale('log')
    ax.set_xlim(178, 5.3e6)
    ax.set_xlabel('t [yr]', fontsize=15, labelpad=0)
    ax.set_ylabel(r'M [M$_{\oplus}$]', fontsize=15, labelpad=2)
    ax.set_title(title, fontsize=13, pad=3)
    ax.tick_params(labelsize=12)
    ax.legend(handles=[], loc='upper left', fontsize=12)

fig.savefig('out.png', dpi=72)
